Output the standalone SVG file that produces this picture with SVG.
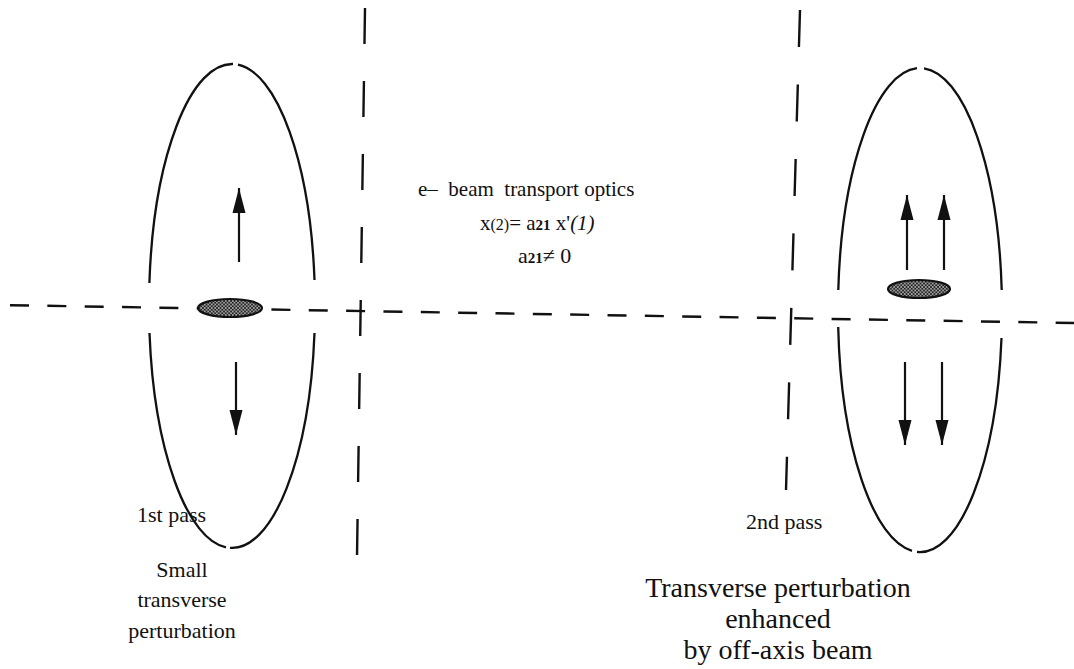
<svg xmlns="http://www.w3.org/2000/svg" width="1074" height="669" viewBox="0 0 1074 669">
<style>
.t{font-family:"Liberation Serif","Times New Roman",serif;fill:#111;}
.curve{fill:none;stroke:#111;stroke-width:2.3;}
.dash{fill:none;stroke:#111;stroke-width:2.4;}
.arr{stroke:#111;stroke-width:2.2;marker-end:url(#ah);}
.beam{fill:url(#hatch);stroke:#111;stroke-width:2.2;}
</style>
<defs>
<marker id="ah" markerUnits="userSpaceOnUse" markerWidth="26" markerHeight="14" refX="25" refY="7" orient="auto">
<path d="M0,0.5 L25,7 L0,13.5 z" fill="#111"/>
</marker>
<pattern id="hatch" width="3.5" height="3.5" patternUnits="userSpaceOnUse">
<rect width="3.5" height="3.5" fill="#fff"/>
<path d="M0,0 L3.5,3.5 M3.5,0 L0,3.5" stroke="#222" stroke-width="1.1"/>
</pattern>
</defs>
<rect width="1074" height="669" fill="#fff"/>
<g id="connectors">
<line class="dash" x1="10" y1="305.2" x2="1074" y2="323" stroke-dasharray="19 18.35"/>
<line class="dash" x1="365" y1="8" x2="357" y2="557" stroke-dasharray="36 37"/>
<line class="dash" x1="800" y1="10" x2="786" y2="490" stroke-dasharray="37 37.5"/>
</g>
<g id="pass1">
<path class="curve" d="M233,64 A83,242 0 0 0 149.4,283"/>
<path class="curve" d="M149.5,333 A83,242 0 0 0 226,547.4"/>
<path class="curve" d="M230,547.9 A83,242 0 0 0 314.5,333"/>
<path class="curve" d="M314.5,280 A83,242 0 0 0 238,64.6"/>
<ellipse class="beam" cx="230" cy="308" rx="32" ry="9"/>
<line class="arr" x1="239" y1="262" x2="239" y2="188"/>
<line class="arr" x1="236" y1="362" x2="236" y2="435"/>
<text class="t" x="137" y="522" font-size="22">1st pass</text>
<text class="t" x="182" y="577" font-size="22" text-anchor="middle">Small</text>
<text class="t" x="182" y="607" font-size="22" text-anchor="middle">transverse</text>
<text class="t" x="182" y="638" font-size="22" text-anchor="middle">perturbation</text>
</g>
<g id="optics">
<text class="t" x="418" y="196" font-size="21" xml:space="preserve">e–  beam  transport optics</text>
<text class="t" x="480" y="230" font-size="21">x<tspan font-size="16">(2)</tspan>= a<tspan font-size="15" font-weight="bold">21</tspan> x'<tspan font-style="italic">(1)</tspan></text>
<text class="t" x="518" y="263" font-size="22">a<tspan font-size="15" font-weight="bold">21</tspan>≠ 0</text>
</g>
<g id="pass2">
<path class="curve" d="M917,68.2 A82,242 0 0 0 838.3,290"/>
<path class="curve" d="M838.2,327 A82,242 0 0 0 912,550.8"/>
<path class="curve" d="M917,551.9 A82,242 0 0 0 1001.5,338"/>
<path class="curve" d="M1001.7,290 A82,242 0 0 0 924,68.3"/>
<ellipse class="beam" cx="919" cy="289" rx="31" ry="9"/>
<line class="arr" x1="907" y1="270" x2="907" y2="195"/>
<line class="arr" x1="944" y1="270" x2="944" y2="195"/>
<line class="arr" x1="905" y1="362" x2="905" y2="445"/>
<line class="arr" x1="942" y1="362" x2="942" y2="445"/>
<text class="t" x="746" y="529" font-size="22">2nd pass</text>
<text class="t" x="778" y="597" font-size="28" text-anchor="middle">Transverse perturbation</text>
<text class="t" x="778" y="628" font-size="28" text-anchor="middle">enhanced</text>
<text class="t" x="778" y="659" font-size="28" text-anchor="middle">by off-axis beam</text>
</g>
</svg>
